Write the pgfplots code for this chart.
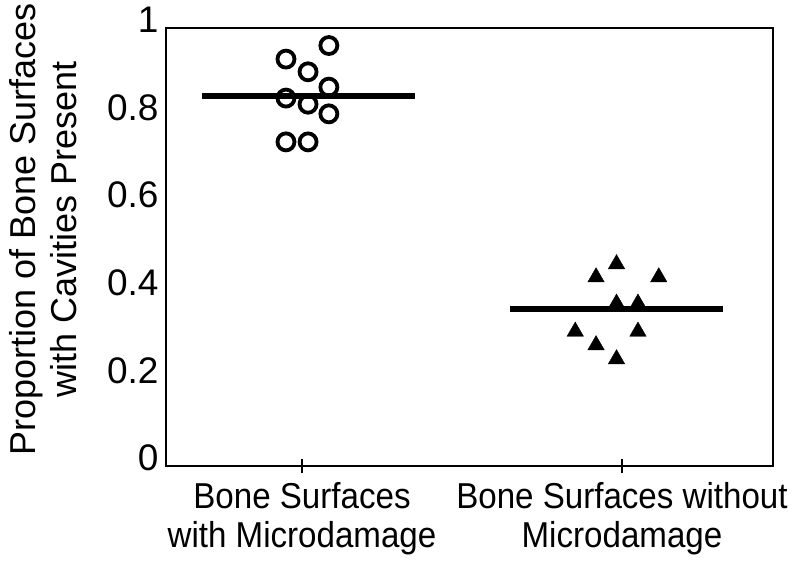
\documentclass[border=0pt]{standalone}
\usepackage{pgfplots}
\pgfplotsset{compat=1.18}
\usepackage{fontspec}
\setmainfont{Liberation Sans}
\newfontfamily\narrowfont{Liberation Sans}[FakeStretch=0.92]
\begin{document}
\begin{tikzpicture}
\begin{axis}[
  scale only axis, width=607pt, height=438pt,
  xmin=0.575, xmax=2.472, ymin=0, ymax=1,
  axis line style={line width=1.8pt},
  xtick={1,2},
  xticklabels={{Bone Surfaces\\with Microdamage},{Bone Surfaces without\\Microdamage}},
  xticklabel style={align=center, font=\narrowfont\fontsize{36}{39}\selectfont, yshift=-6pt},
  ytick={0,0.2,0.4,0.6,0.8,1},
  yticklabels={0,0.2,0.4,0.6,0.8,1},
  yticklabel style={font=\fontsize{37}{40}\selectfont, yshift=8pt, xshift=3pt},
  ytick style={draw=none},
  xtick pos=bottom, tick align=center, major tick length=14pt,
  xtick style={line width=1.8pt, black},
  ylabel={Proportion of Bone Surfaces\\with Cavities Present},
  ylabel style={align=center, font=\fontsize{36}{41}\selectfont, at={(axis description cs:-0.202,0.54)}, anchor=center},
  clip=false,
]
\addplot[line width=5.5pt] coordinates {(0.6875,0.845) (1.353,0.845)};
\addplot[line width=5.5pt] coordinates {(1.65,0.358) (2.316,0.358)};
\addplot[only marks, mark=o, mark size=8.5pt, mark options={line width=3.8pt, black}] coordinates {
 (1.084,0.960) (0.95,0.929) (1.019,0.900) (1.084,0.865) (0.95,0.840)
 (1.019,0.826) (1.084,0.804) (0.95,0.740) (1.019,0.740)};
\addplot[only marks, mark=triangle*, mark size=9.5pt, mark options={fill=black, draw=black, line width=0.4pt}] coordinates {
 (1.983,0.461) (1.919,0.431) (2.115,0.431) (1.983,0.371) (2.05,0.371)
 (1.854,0.307) (2.05,0.307) (1.919,0.276) (1.983,0.244)};
\coordinate (sw) at (rel axis cs:0,0);
\coordinate (ne) at (rel axis cs:1,1);
\end{axis}
\pgfresetboundingbox
\path ([shift={(-166pt,-105pt)}]sw) rectangle ([shift={(28pt,28pt)}]ne);
\end{tikzpicture}
\end{document}
